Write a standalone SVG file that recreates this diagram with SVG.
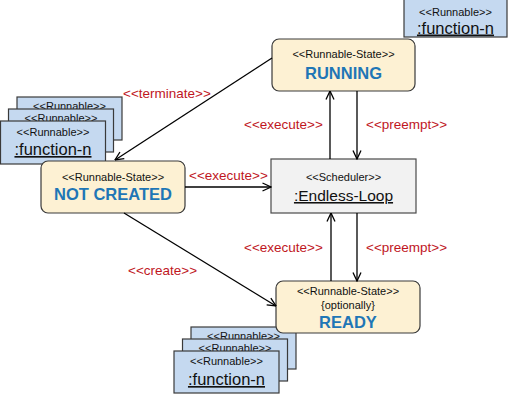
<svg xmlns="http://www.w3.org/2000/svg" width="508" height="400" viewBox="0 0 508 400">
<defs>
<marker id="arr" viewBox="0 0 10 10" refX="9.5" refY="5" markerWidth="10" markerHeight="10" markerUnits="userSpaceOnUse" orient="auto">
<path d="M1,1 L9.5,5 L1,9" fill="none" stroke="#000" stroke-width="1.3"/>
</marker>
</defs>
<style>
text{font-family:"Liberation Sans",Arial,sans-serif;text-anchor:middle}
.state{fill:#fdf1d3;stroke:#3a3a3a;stroke-width:1.2}
.sched{fill:#f2f2f2;stroke:#4a4a4a;stroke-width:1.2}
.run{fill:#c5d9f0;stroke:#3a3a3a;stroke-width:1.2}
.st{font-size:11px;fill:#111}
.name{font-size:16.5px;font-weight:bold;fill:#1f76b6}
.fn{font-size:16.5px;fill:#111;text-decoration:underline}
.lbl{font-size:13.5px;fill:#c0161e;text-anchor:start}
.edge{stroke:#000;stroke-width:1.3;fill:none;marker-end:url(#arr)}
</style>
<rect width="508" height="400" fill="#fff"/>

<g id="runnable-top">
<rect class="run" x="404" y="-1" width="103" height="38"/>
<text class="st" x="455.5" y="15.5">&lt;&lt;Runnable&gt;&gt;</text>
<text class="fn" x="455.5" y="33.5">:function-n</text>
</g>

<g id="runnable-left">
<rect class="run" x="17" y="97" width="105" height="43"/>
<text class="st" x="69.5" y="110">&lt;&lt;Runnable&gt;&gt;</text>
<rect class="run" x="8.5" y="109" width="105" height="43"/>
<text class="st" x="61" y="122">&lt;&lt;Runnable&gt;&gt;</text>
<rect class="run" x="0.5" y="121" width="105" height="43"/>
<text class="st" x="53" y="136">&lt;&lt;Runnable&gt;&gt;</text>
<text class="fn" x="53" y="155">:function-n</text>
</g>

<g id="runnable-bottom">
<rect class="run" x="191" y="327" width="105" height="42"/>
<text class="st" x="243.5" y="340">&lt;&lt;Runnable&gt;&gt;</text>
<rect class="run" x="182.5" y="339" width="105" height="42"/>
<text class="st" x="235" y="352">&lt;&lt;Runnable&gt;&gt;</text>
<rect class="run" x="174" y="351" width="105" height="42"/>
<text class="st" x="226.5" y="365">&lt;&lt;Runnable&gt;&gt;</text>
<text class="fn" x="226.5" y="385">:function-n</text>
</g>

<g id="running">
<rect class="state" x="272" y="39" width="143" height="52" rx="7"/>
<text class="st" x="343.5" y="58">&lt;&lt;Runnable-State&gt;&gt;</text>
<text class="name" x="343.5" y="79">RUNNING</text>
</g>

<g id="scheduler">
<rect class="sched" x="271" y="159" width="145" height="54"/>
<text class="st" x="343.5" y="181">&lt;&lt;Scheduler&gt;&gt;</text>
<text class="fn" x="343.5" y="201" style="font-size:15.5px">:Endless-Loop</text>
</g>

<g id="not-created">
<rect class="state" x="41" y="161" width="144" height="52" rx="7"/>
<text class="st" x="113" y="181">&lt;&lt;Runnable-State&gt;&gt;</text>
<text class="name" x="113" y="200">NOT CREATED</text>
</g>

<g id="ready">
<rect class="state" x="276" y="281" width="144" height="52" rx="7"/>
<text class="st" x="348" y="295">&lt;&lt;Runnable-State&gt;&gt;</text>
<text class="st" x="348" y="309">{optionally}</text>
<text class="name" x="348" y="328">READY</text>
</g>

<g id="connectors">
<line class="edge" x1="272" y1="58" x2="115" y2="160"/>
<line class="edge" x1="330" y1="159" x2="330" y2="91"/>
<line class="edge" x1="357" y1="91" x2="357" y2="159"/>
<line class="edge" x1="185" y1="187" x2="271" y2="187"/>
<line class="edge" x1="331" y1="281" x2="331" y2="213"/>
<line class="edge" x1="357" y1="213" x2="357" y2="281"/>
<line class="edge" x1="124" y1="213" x2="276" y2="306"/>
<text class="lbl" x="123" y="98">&lt;&lt;terminate&gt;&gt;</text>
<text class="lbl" x="244" y="129">&lt;&lt;execute&gt;&gt;</text>
<text class="lbl" x="366" y="129">&lt;&lt;preempt&gt;&gt;</text>
<text class="lbl" x="189" y="180">&lt;&lt;execute&gt;&gt;</text>
<text class="lbl" x="244" y="252">&lt;&lt;execute&gt;&gt;</text>
<text class="lbl" x="366" y="252">&lt;&lt;preempt&gt;&gt;</text>
<text class="lbl" x="128" y="275">&lt;&lt;create&gt;&gt;</text>
</g>
</svg>
